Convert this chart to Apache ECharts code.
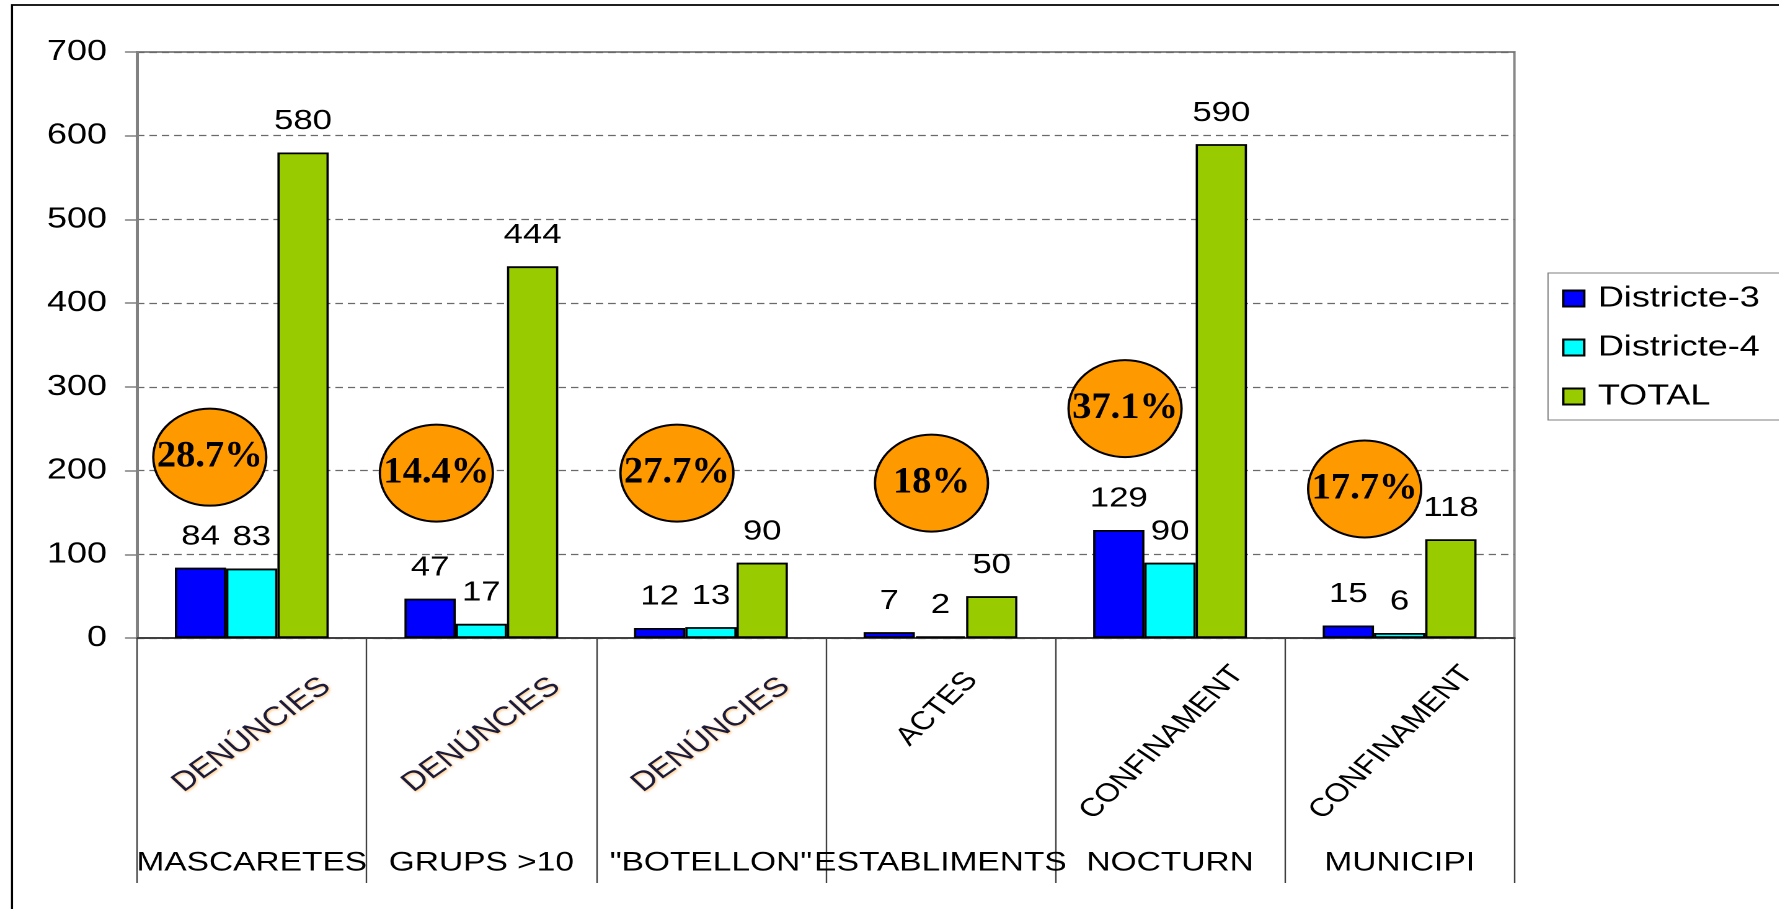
<!DOCTYPE html>
<html>
<head>
<meta charset="utf-8">
<script src="https://cdn.jsdelivr.net/npm/echarts@6/dist/echarts.min.js"></script>
<style>
html,body{margin:0;padding:0;background:#fff;overflow:hidden;width:1780px;height:909px}
#chart{position:absolute;left:0;top:0;height:909px;transform-origin:0 0}
</style>
</head>
<body>
<div id="chart"></div>
<script>
// ---- data ----
const categoriesTop = ['DENÚNCIES', 'DENÚNCIES', 'DENÚNCIES', 'ACTES', 'CONFINAMENT', 'CONFINAMENT'];
const categoriesBottom = ['MASCARETES', 'GRUPS >10', '"BOTELLON"', 'ESTABLIMENTS', 'NOCTURN', 'MUNICIPI'];
const seriesNames = ['Districte-3', 'Districte-4', 'TOTAL'];
const districte3 = [84, 47, 12, 7, 129, 15];
const districte4 = [83, 17, 13, 2, 90, 6];
const total = [580, 444, 90, 50, 590, 118];
const ovalTexts = ['28.7%', '14.4%', '27.7%', '18%', '37.1%', '17.7%'];
const ovalLevels = [216, 197, 197, 185, 274, 178];
const yMin = 0, yMax = 700, yStep = 100;

// ---- layout (horizontal stretch like the original picture) ----
const SX = 1.24;
const X = v => v / SX;
const el = document.getElementById('chart');
el.style.width = (1780 / SX) + 'px';
el.style.transform = 'scaleX(' + SX + ')';
const chart = echarts.init(el, null, {renderer: 'canvas', devicePixelRatio: 2});

const FONT = '"Liberation Sans", Arial, sans-serif';
const ovalShift = [-42, -45, -34, -9, -45, -35];

const only = name => categoriesTop.map(c => (c === name ? c : ''));

const labelAxis = (data, label) => ({
  type: 'category', data: data, position: 'bottom',
  axisLine: {show: false}, axisTick: {show: false}, splitLine: {show: false},
  axisLabel: Object.assign({interval: 0, align: 'center', verticalAlign: 'middle',
    fontSize: 26, fontFamily: FONT, color: '#000'}, label)
});

const barStyle = (color) => ({color: color, borderColor: '#000', borderWidth: 1.8});
const barLabel = {show: true, position: 'top', distance: 17, fontSize: 28, fontFamily: FONT, color: '#000'};

const option = {
  backgroundColor: '#fff',
  animation: false,
  graphic: [{
    type: 'rect', silent: true, z: -10,
    shape: {x: X(12), y: 5, width: 3000, height: 3000},
    style: {fill: 'none', stroke: '#000', lineWidth: 1.7}
  }],
  grid: {
    left: X(137), right: X(1780 - 1515), top: 52, bottom: 909 - 638,
    show: true, borderColor: '#888', borderWidth: 2, backgroundColor: 'transparent'
  },
  legend: {
    data: seriesNames, orient: 'vertical', left: X(1548), top: 273,
    padding: [11, 120, 9, X(14)], itemWidth: X(21), itemHeight: 16, itemGap: 20,
    borderColor: '#808080', borderWidth: 1, icon: 'rect',
    textStyle: {fontSize: 29, fontFamily: FONT, color: '#000', lineHeight: 28, padding: [0, 0, 0, 6]}
  },
  xAxis: [{
    type: 'category', data: only('CONFINAMENT'), position: 'bottom',
    axisLine: {show: true, lineStyle: {color: '#404040', width: 2}},
    axisTick: {show: true, interval: 0, length: 245, lineStyle: {color: '#404040', width: 1.2}},
    axisLabel: {interval: 0, rotate: 50, margin: 97, align: 'center', verticalAlign: 'middle',
      padding: [0, 20, 0, 0], fontSize: 26, fontFamily: FONT, color: '#000'},
    splitLine: {show: false}
  },
  labelAxis(only('DENÚNCIES'), {rotate: 41, margin: 97, fontSize: 27, color: '#1a1a3a',
    textShadowColor: 'rgba(255,170,60,0.7)', textShadowBlur: 2, textShadowOffsetX: 1, textShadowOffsetY: 1}),
  labelAxis(only('ACTES'), {rotate: 50, margin: 68, padding: [0, 8, 0, 0]}),
  labelAxis(categoriesBottom, {margin: 225, fontSize: 27})
  ],
  yAxis: {
    type: 'value', min: yMin, max: yMax, interval: yStep,
    axisLine: {show: true, lineStyle: {color: '#808080', width: 2}},
    axisTick: {show: true, inside: false, length: X(12), lineStyle: {color: '#808080', width: 1.5}},
    axisLabel: {margin: X(30), fontSize: 29, fontFamily: FONT, color: '#000'},
    splitLine: {show: true, lineStyle: {type: [6, 4], color: '#6a6a6a', width: 1.3}}
  },
  series: [
    {name: seriesNames[0], type: 'bar', data: districte3, barGap: '0%', barCategoryGap: '33%',
      itemStyle: barStyle('#0000FF'), label: barLabel},
    {name: seriesNames[1], type: 'bar', data: districte4, barGap: '0%', barCategoryGap: '33%',
      itemStyle: barStyle('#00FFFF'), label: barLabel},
    {name: seriesNames[2], type: 'bar', data: total, barGap: '0%', barCategoryGap: '33%',
      itemStyle: barStyle('#99CC00'), label: barLabel},
    {
      type: 'custom', z: 10, clip: false,
      data: ovalLevels.map((v, i) => [i, v]),
      encode: {x: 0, y: 1},
      renderItem: function (params, api) {
        const p = api.coord([api.value(0), api.value(1)]);
        const i = params.dataIndex;
        return {
          type: 'group', x: p[0] + X(ovalShift[i]), y: p[1],
          children: [
            {type: 'circle', shape: {cx: 0, cy: 0, r: 48.5}, scaleX: X(113) / 97,
              style: {fill: '#FF9900', stroke: '#000', lineWidth: 2}},
            {type: 'text', x: 0, y: 0, scaleX: 0.84,
              style: {text: ovalTexts[i], fontSize: 37, fontWeight: 'bold',
                fontFamily: '"Liberation Serif", "Times New Roman", serif',
                align: 'center', verticalAlign: 'middle', fill: '#000'}}
          ]
        };
      }
    }
  ]
};
chart.setOption(option);
</script>
</body>
</html>
